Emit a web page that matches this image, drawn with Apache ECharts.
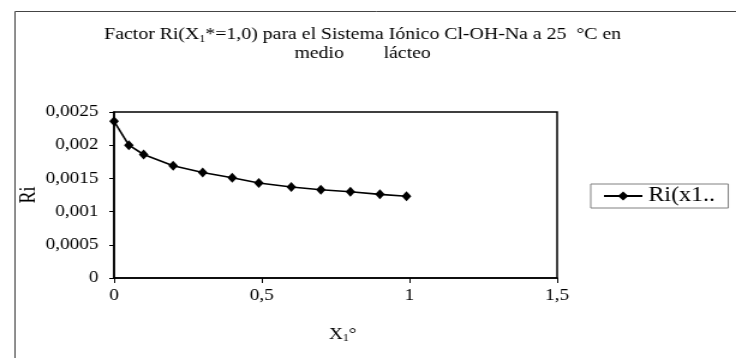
<!DOCTYPE html>
<html>
<head>
<meta charset="utf-8">
<script src="https://cdn.jsdelivr.net/npm/echarts@6/dist/echarts.min.js"></script>
<style>
  html, body { margin: 0; padding: 0; background: #fff; overflow: hidden; }
  /* The chart is laid out on a slightly narrower canvas and widened, giving the broad serif lettering */
  #chart { width: 613px; height: 358px; transform: scaleX(1.2007); transform-origin: 0 0; }
</style>
</head>
<body>
<div id="chart"></div>
<script>
// Mole fraction X1° and factor Ri
const x1Values = [0, 0.05, 0.1, 0.2, 0.3, 0.4, 0.49, 0.6, 0.7, 0.8, 0.9, 0.99];
const riValues = [0.00236, 0.00200, 0.00186, 0.00169, 0.00159, 0.00151, 0.00143, 0.00137, 0.00133, 0.00130, 0.00126, 0.00123];
const seriesName = 'Ri(x1*=1,0)';
const yTicks = { min: 0, max: 0.0025, interval: 0.0005 };
const xTicks = { min: 0, max: 1.5, interval: 0.5 };

const serif = '"Liberation Serif", "Times New Roman", serif';
const comma = v => String(v).replace('.', ',');

const chart = echarts.init(document.getElementById('chart'));
chart.setOption({
  backgroundColor: '#fff',
  animation: false,
  title: {
    text: 'Factor Ri(X{s|1}*=1,0) para el Sistema Iónico Cl-OH-Na a 25  °C en\nmedio        lácteo',
    left: 297,
    textAlign: 'center',
    top: 20,
    textStyle: {
      fontFamily: serif, fontSize: 16.5, fontWeight: 'normal', color: '#000', lineHeight: 19,
      rich: { s: { fontFamily: serif, fontSize: 10, verticalAlign: 'bottom', lineHeight: 14, color: '#000' } }
    }
  },
  graphic: [{
    type: 'rect', left: 10, top: 9, silent: true,
    shape: { width: 700, height: 400 },
    style: { fill: 'none', stroke: '#444', lineWidth: 1 }
  }],
  legend: {
    left: 492, top: 184,
    padding: [2, 11, 2, 10],
    borderColor: '#808080', borderWidth: 1,
    itemWidth: 32, itemHeight: 11,
    formatter: name => name.slice(0, 5) + '..',
    textStyle: { fontFamily: serif, fontSize: 20, color: '#000' },
    data: [seriesName]
  },
  grid: {
    left: 95, top: 112, width: 369, height: 166,
    show: true, borderColor: '#000', borderWidth: 1.5, backgroundColor: '#fff'
  },
  xAxis: {
    type: 'value', min: xTicks.min, max: xTicks.max, interval: xTicks.interval,
    name: 'X{s|1}°', nameLocation: 'middle', nameGap: 49, nameMoveOverlap: false,
    nameTextStyle: {
      fontFamily: serif, fontSize: 16, color: '#000', padding: [0, 0, 0, 12],
      rich: { s: { fontFamily: serif, fontSize: 10, verticalAlign: 'bottom', lineHeight: 14, color: '#000' } }
    },
    axisLine: { show: true, onZero: false, lineStyle: { color: '#000', width: 1.5 } },
    axisTick: { show: true, inside: false, length: 5, lineStyle: { color: '#000', width: 1 } },
    axisLabel: { margin: 10, fontFamily: serif, fontSize: 16, color: '#000', formatter: comma },
    splitLine: { show: false }
  },
  yAxis: {
    type: 'value', min: yTicks.min, max: yTicks.max, interval: yTicks.interval,
    name: 'Ri', nameLocation: 'middle', nameGap: 62, nameMoveOverlap: false,
    nameTextStyle: { fontFamily: serif, fontSize: 18, color: '#000' },
    axisLine: { show: true, onZero: false, lineStyle: { color: '#000', width: 1.5 } },
    axisTick: { show: true, inside: false, length: 4, lineStyle: { color: '#000', width: 1 } },
    axisLabel: { margin: 13, fontFamily: serif, fontSize: 16, color: '#000', formatter: comma },
    splitLine: { show: false }
  },
  series: [{
    name: seriesName,
    type: 'line',
    data: x1Values.map((x, i) => [x, riValues[i]]),
    symbol: 'diamond',
    symbolSize: [8, 10],
    showAllSymbol: true,
    itemStyle: { color: '#000' },
    lineStyle: { color: '#000', width: 1.6 }
  }]
});
</script>
</body>
</html>
